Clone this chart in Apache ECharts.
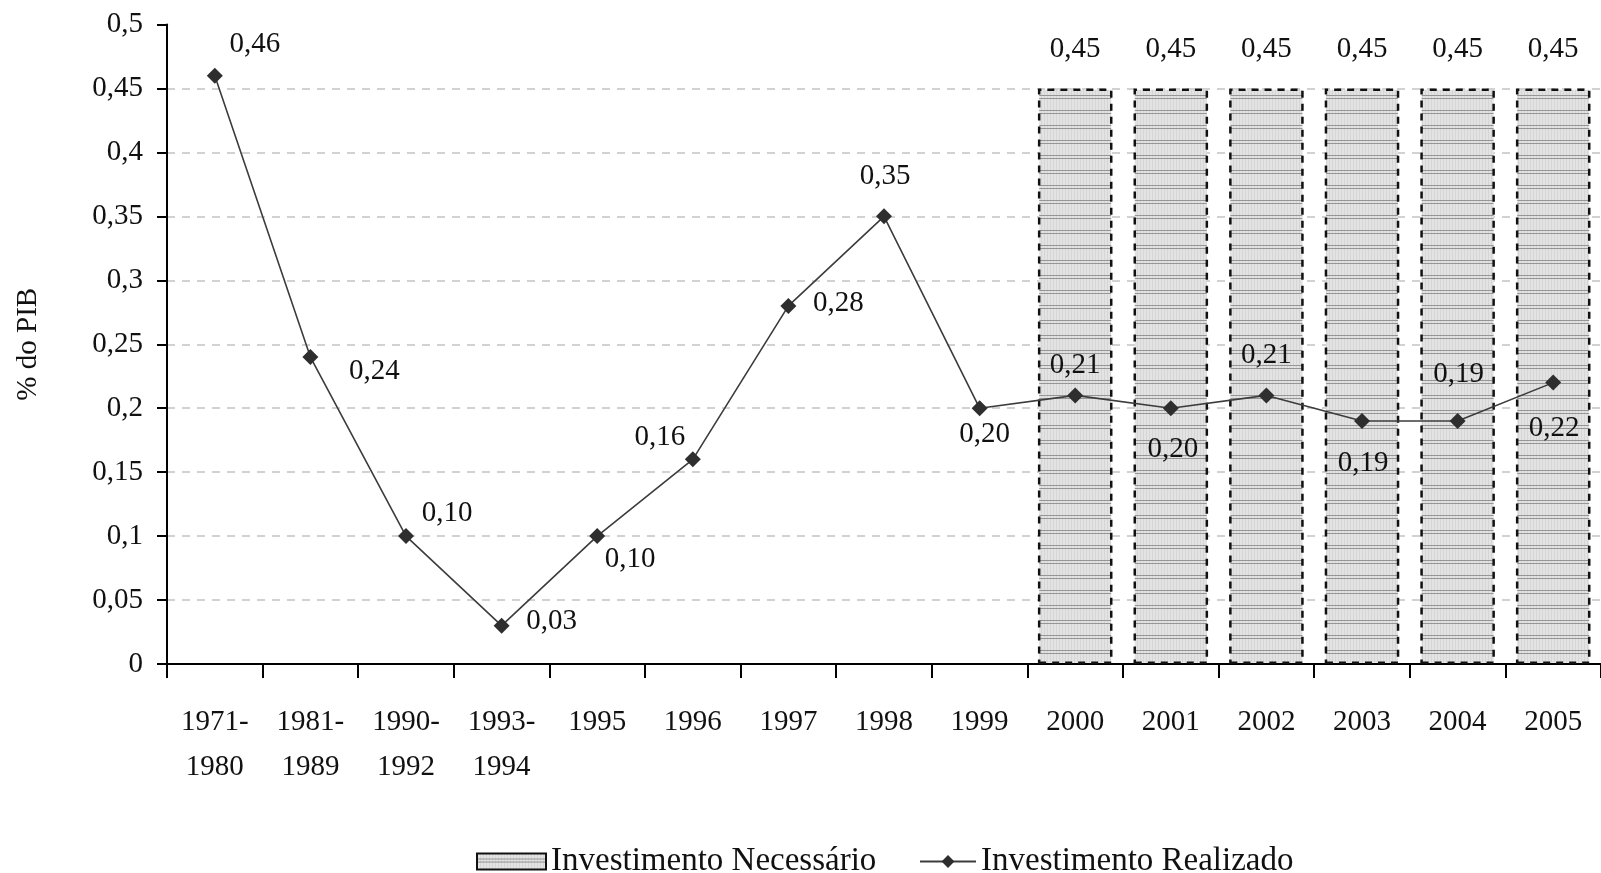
<!DOCTYPE html>
<html>
<head>
<meta charset="utf-8">
<title>Investimento em % do PIB</title>
<script src="https://cdn.jsdelivr.net/npm/echarts@6/dist/echarts.min.js"></script>
<style>
  html, body { margin: 0; padding: 0; background: #fff; }
  #chart { width: 1601px; height: 873px; }
</style>
</head>
<body>
<div id="chart"></div>
<script>
// Periods on the horizontal axis
const categories = ['1971-\n1980', '1981-\n1989', '1990-\n1992', '1993-\n1994', '1995', '1996', '1997',
  '1998', '1999', '2000', '2001', '2002', '2003', '2004', '2005'];

// Required investment (% of GDP), only given from 2000 on
const investimentoNecessario = [null, null, null, null, null, null, null, null, null,
  0.45, 0.45, 0.45, 0.45, 0.45, 0.45];

// Realised investment (% of GDP)
const investimentoRealizado = [0.46, 0.24, 0.10, 0.03, 0.10, 0.16, 0.28, 0.35, 0.20,
  0.21, 0.20, 0.21, 0.19, 0.19, 0.22];

// Value-axis tick labels, 0 to 0.5 in steps of 0.05
const yTickLabels = ['0', '0,05', '0,1', '0,15', '0,2', '0,25', '0,3', '0,35', '0,4', '0,45', '0,5'];

// Where each realised-investment label sits relative to its marker [dx, dy]
const lineLabelOffsets = [
  [40, -31], [64, 14], [41, -23], [50, -4], [33, 23], [-33, -22], [50, -2], [1, -40],
  [5, 26], [0, -30], [2, 41], [0, -40], [1, 42], [1, -47], [1, 46]
];

const FONT = '"Liberation Serif", "Times New Roman", serif';

// Striped grey fill used by the bars
function makeStripePattern() {
  const c = document.createElement('canvas');
  c.width = 6; c.height = 15;
  const g = c.getContext('2d');
  g.fillStyle = '#e3e3e3';
  g.fillRect(0, 0, 6, 15);
  g.fillStyle = '#d6d6d6';
  g.fillRect(0, 0, 1, 15);
  g.fillRect(3, 0, 1, 15);
  g.fillStyle = '#969696';
  g.fillRect(0, 5, 6, 1);
  g.fillRect(0, 8, 6, 1);
  return c;
}
const stripe = { image: makeStripePattern(), repeat: 'repeat' };

const fmt = v => v.toFixed(2).replace('.', ',');

const chart = echarts.init(document.getElementById('chart'), null, { renderer: 'canvas' });

chart.setOption({
  animation: false,
  backgroundColor: '#fff',
  textStyle: { fontFamily: FONT, color: '#111' },
  grid: { left: 167, right: 0, top: 24.5, bottom: 209, containLabel: false },
  legend: [
    {
      data: [{ name: 'Investimento Necessário', icon: 'rect' }],
      left: 476, top: 845,
      itemWidth: 69, itemHeight: 16, itemGap: 0,
      textStyle: { fontFamily: FONT, fontSize: 33, color: '#111' },
      padding: 0
    },
    {
      data: ['Investimento Realizado'],
      left: 919, top: 845,
      itemWidth: 56, itemHeight: 16, itemGap: 0,
      textStyle: { fontFamily: FONT, fontSize: 33, color: '#111' },
      padding: 0
    }
  ],
  xAxis: {
    type: 'category',
    data: categories,
    boundaryGap: true,
    axisLine: { lineStyle: { color: '#000', width: 2 } },
    axisTick: { show: true, length: 14, inside: false, interval: 0, lineStyle: { color: '#000', width: 2 } },
    axisLabel: {
      interval: 0, margin: 36, fontFamily: FONT, fontSize: 29, color: '#111', lineHeight: 45
    },
    splitLine: { show: false }
  },
  yAxis: {
    type: 'value',
    min: 0, max: 0.5, interval: 0.05,
    name: '% do PIB',
    nameLocation: 'middle',
    nameGap: 124,
    nameRotate: 90,
    nameTextStyle: { fontFamily: FONT, fontSize: 29, color: '#111' },
    axisLine: { show: true, lineStyle: { color: '#000', width: 2 } },
    axisTick: { show: true, length: 10, lineStyle: { color: '#000', width: 2 } },
    axisLabel: {
      margin: 24, fontFamily: FONT, fontSize: 29, color: '#111',
      formatter: v => yTickLabels[Math.round(v / 0.05)]
    },
    splitLine: {
      show: true, showMaxLine: false,
      lineStyle: { color: '#c4c4c4', width: 1.5, type: [8, 7] }
    }
  },
  series: [
    {
      name: 'Investimento Necessário',
      type: 'bar',
      data: investimentoNecessario,
      barCategoryGap: '22%',
      itemStyle: {
        color: stripe,
        borderColor: '#111',
        borderWidth: 2.5,
        borderType: [7, 6]
      },
      label: {
        show: true, position: 'top', distance: 25,
        fontFamily: FONT, fontSize: 29, color: '#111',
        formatter: p => fmt(p.value)
      },
      z: 2
    },
    {
      name: 'Investimento Realizado',
      type: 'line',
      data: investimentoRealizado.map((v, i) => ({
        value: v,
        label: { offset: lineLabelOffsets[i] }
      })),
      symbol: 'diamond',
      symbolSize: 16,
      itemStyle: { color: '#2e2e2e' },
      lineStyle: { color: '#3c3c3c', width: 1.6 },
      label: {
        show: true, position: 'inside',
        align: 'center', verticalAlign: 'middle',
        fontFamily: FONT, fontSize: 29, color: '#111',
        formatter: p => fmt(p.value)
      },
      z: 3
    }
  ]
});
</script>
</body>
</html>
